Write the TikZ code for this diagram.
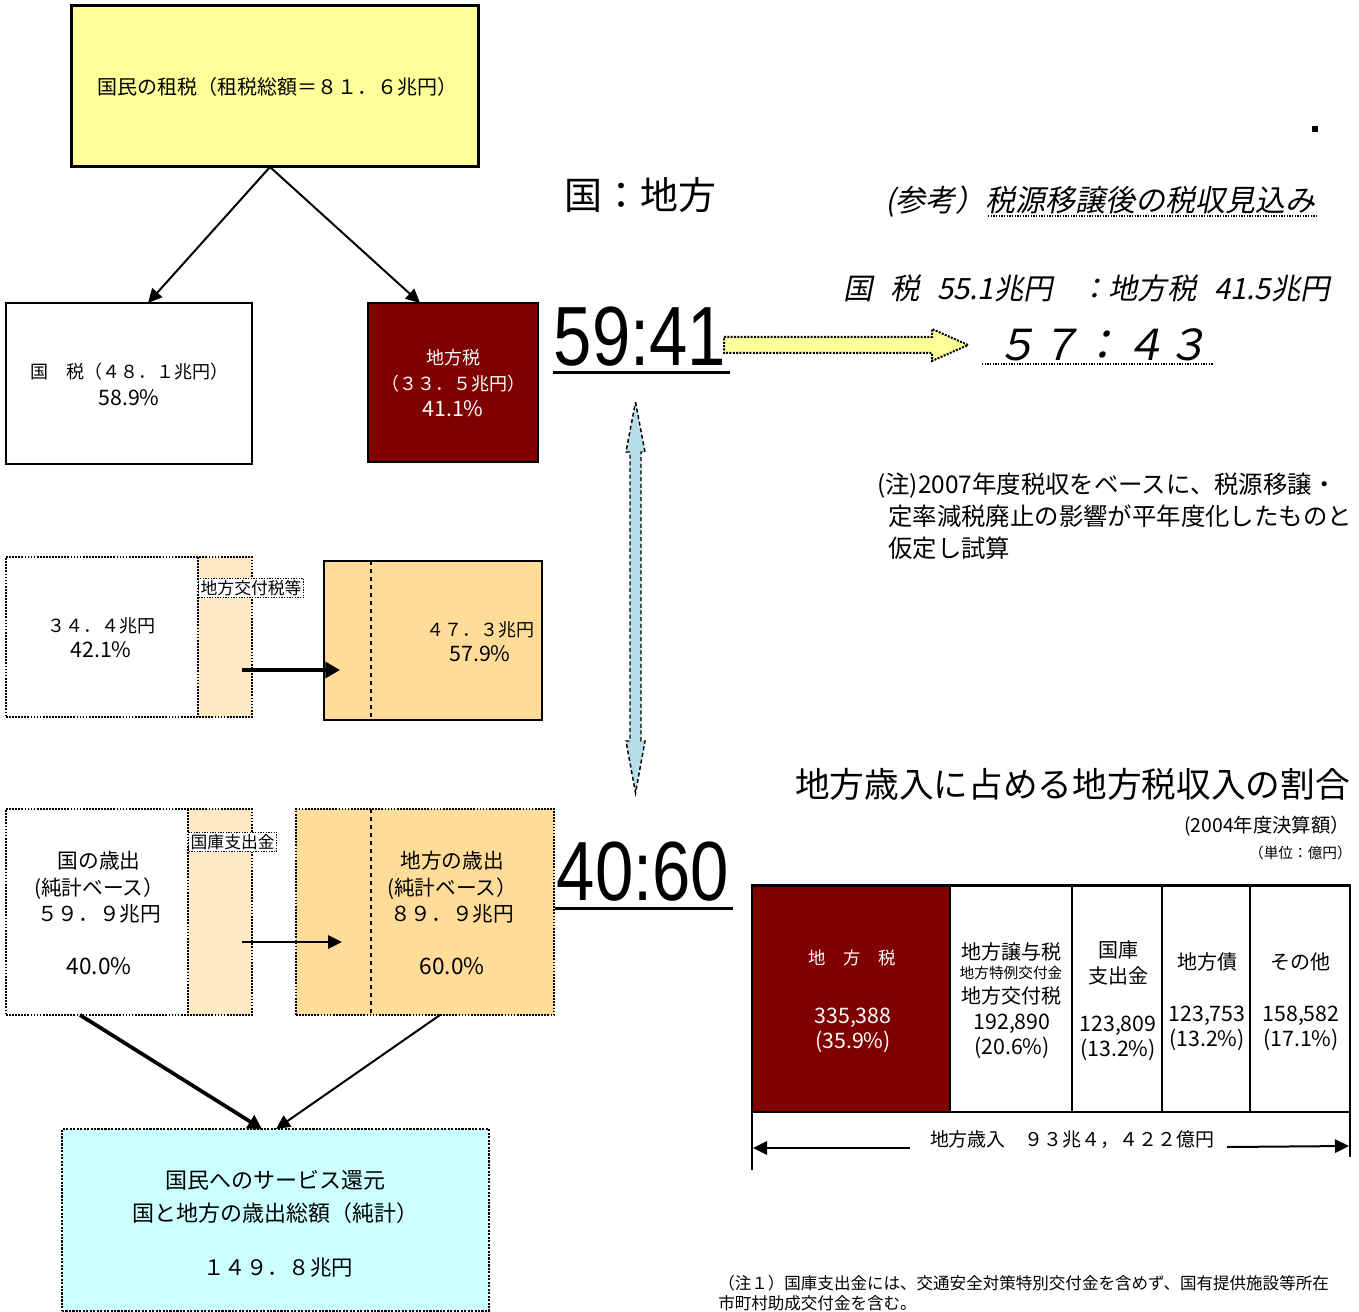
\documentclass[tikz,border=0pt]{standalone}
\usepackage{fontspec}
\usepackage{graphicx}
\setmainfont{Noto Sans CJK JP}
\newfontfamily\itfont[FakeSlant=0.2]{Noto Sans CJK JP}
\newfontfamily\numfont{Liberation Sans}
\usetikzlibrary{arrows.meta,fit,calc}
\newcommand\fsz[2]{\fontsize{#1}{#2}\selectfont}
\newcommand\pcl[1]{{\fontsize{16pt}{16pt}\selectfont #1}}
\newcommand\pcb[1]{{\fontsize{17pt}{17pt}\selectfont #1}}
\definecolor{cYel}{HTML}{FFFF99}
\definecolor{cRed}{HTML}{800000}
\definecolor{cPeach}{HTML}{FFE9C4}
\definecolor{cOrange}{HTML}{FFDD99}
\definecolor{cCyan}{HTML}{CCFFFF}
\definecolor{cBlue}{HTML}{B7DEE8}
\begin{document}
\begin{tikzpicture}[x=0.75pt,y=-0.75pt,
  txt/.style={inner sep=0pt, align=center},
  arrowtip/.style={-{Triangle[length=10.5pt,width=10pt]}},
  conn/.style={arrowtip, line width=1.5pt},
  solidbox/.style={draw, line width=1.2pt, inner sep=0pt},
  dotbox/.style={draw, densely dotted, line width=1.3pt, inner sep=0pt},
  lab/.style={draw, densely dotted, fill=white, line width=1pt, inner sep=1.5pt, anchor=west, font=\fsz{12.6pt}{14pt}},
  midtxt/.style={txt, font=\fsz{13.5pt}{18.75pt}},
  lowtxt/.style={txt, font=\fsz{15.5pt}{19.9pt}},
  bignum/.style={txt, font={\numfont\fsz{63pt}{63pt}}},
  cellhead/.style={txt, font=\fsz{15pt}{19.5pt}},
  cellnum/.style={txt, font=\fsz{16pt}{18.75pt}},
  rule/.style={line width=1.5pt}
]
\useasboundingbox (0,0) rectangle (1359,1312);

% ---------- top: taxes ----------
\node[fit={(71,6)(478,167)}, draw, line width=2.25pt, fill=cYel, inner sep=0pt] (yel) {};
\node[txt, font=\fsz{15pt}{18pt}] (yelt) at (277,87) {国民の租税（租税総額＝８１．６兆円）};

\node[fit={(6,303)(252,464)}, solidbox] (kz) {};
\node[txt, font=\fsz{13.5pt}{20.25pt}] (kzt) at (129,384.5) {国　税（４８．１兆円）\\\pcl{58.9\%}};

\node[fit={(368,303)(538,462)}, solidbox, fill=cRed] (cz) {};
\node[txt, text=white, font=\fsz{13.5pt}{19.5pt}] (czt) at (453,383) {地方税\\（３３．５兆円）\\\pcl{41.1\%}};

\coordinate (ya) at (270,167);
\coordinate (kzin) at (148,303);
\coordinate (czin) at (420,303);
\draw[conn] (ya) -- (kzin);
\draw[conn] (ya) -- (czin);

% ---------- ratio 59:41 ----------
\node[txt, font=\fsz{28.5pt}{32pt}] (kt) at (640,195) {国：地方};
\node[bignum] (r1) at (640,337) {\scalebox{0.82}[1]{59:41}};
\draw[line width=2.25pt] (553,372) -- (730,372);

\draw[densely dotted, line width=1.5pt, fill=cYel] (724,337) -- (932,337) -- (932,329) -- (968,345) -- (932,361) -- (932,353) -- (724,353) -- cycle;

\node[anchor=west, txt, font={\itfont\fsz{22.5pt}{26pt}}] (ref) at (885,202) {(参考）税源移譲後の税収見込み};
\draw[densely dotted, line width=1pt] (988,216) -- (1318,216);

\node[anchor=west, txt, font={\itfont\fsz{22pt}{24pt}}] (ref2) at (843,288) {国\hspace{0.6em}税\hspace{0.6em}55.1兆円\hspace{0.9em}：地方税\hspace{0.6em}41.5兆円};
\node[txt, font={\itfont\fsz{32pt}{36pt}}] (r57) at (1102,345) {５７：４３};
\draw[densely dotted, line width=1pt] (982,364) -- (1213,364);

\fill (1312,126) rectangle (1318,132);

\node[anchor=west, align=left, inner sep=0pt, font=\fsz{18.3pt}{24pt}] (note) at (877,516) {(注)2007年度税収をベースに、税源移譲・\\\hspace{0.45em}定率減税廃止の影響が平年度化したものと\\\hspace{0.45em}仮定し試算};

% ---------- vertical double arrow ----------
\draw[densely dashed, line width=1.1pt, fill=cBlue] (635.5,402) -- (645,452) -- (641,452) -- (641,741) -- (645,741) -- (635.5,793) -- (626,741) -- (630,741) -- (630,452) -- (626,452) -- cycle;

% ---------- middle row ----------
\fill[cPeach] (198,557) rectangle (252,717);
\node[fit={(6,557)(252,717)}, dotbox] (ml) {};
\draw[densely dotted, line width=1.3pt] (198,557) -- (198,717);
\node[midtxt] (mlt) at (101,637.5) {３４．４兆円\\\pcl{42.1\%}};
\node[lab] (mlab) at (198,588) {地方交付税等};

\node[fit={(324,561)(542,720)}, solidbox, line width=1.5pt, fill=cOrange] (mr) {};
\draw[dashed, line width=1.1pt] (371,561) -- (371,720);
\node[midtxt] (mrt) at (480,641.5) {４７．３兆円\\\pcl{57.9\%}};

\coordinate (ma1) at (242,670);
\coordinate (ma2) at (340,670);
\draw[line width=3pt, -{Triangle[length=11pt,width=12pt]}] (ma1) -- (ma2);

% ---------- bottom row ----------
\fill[cPeach] (188,809) rectangle (252,1015);
\node[fit={(6,809)(252,1015)}, dotbox] (bl) {};
\draw[densely dotted, line width=1.3pt] (188,809) -- (188,1015);
\node[lowtxt] (blt) at (99,913) {国の歳出\\(純計ベース）\\５９．９兆円\\\mbox{}\\\pcb{40.0\%}};
\node[lab] (blab) at (188,842) {国庫支出金};

\node[fit={(296,809)(554,1015)}, dotbox, fill=cOrange] (br) {};
\draw[dashed, line width=1.1pt] (371,809) -- (371,1015);
\node[lowtxt] (brt) at (452,913) {地方の歳出\\(純計ベース）\\８９．９兆円\\\mbox{}\\\pcb{60.0\%}};

\coordinate (ba1) at (242,942);
\coordinate (ba2) at (342,942);
\draw[conn] (ba1) -- (ba2);

\node[bignum] (r2) at (643,872) {\scalebox{0.82}[1]{40:60}};
\draw[line width=2.25pt] (555,908) -- (733,908);

% ---------- service box ----------
\node[fit={(62,1129)(489,1311)}, draw, densely dotted, line width=1.6pt, fill=cCyan, inner sep=0pt] (sv) {};
\node[txt, font=\fsz{16.5pt}{24.75pt}] (svt) at (275,1196.5) {国民へのサービス還元\\国と地方の歳出総額（純計）};
\node[txt, font=\fsz{16pt}{20pt}] (svn) at (278,1268) {１４９．８兆円};

\coordinate (d1) at (80,1015);
\coordinate (d2) at (262,1129);
\coordinate (d3) at (440,1015);
\coordinate (d4) at (276,1129);
\draw[line width=2.8pt, -{Triangle[length=10.5pt,width=11pt]}] (d1) -- (d2);
\draw[conn] (d3) -- (d4);

% ---------- revenue chart ----------
\node[anchor=east, inner sep=0pt, font=\fsz{26pt}{30pt}] (ttl) at (1350,784) {地方歳入に占める地方税収入の割合};
\node[anchor=east, inner sep=0pt, font=\fsz{14.5pt}{16pt}] (yr) at (1350,826) {(2004年度決算額）};
\node[anchor=east, inner sep=0pt, font=\fsz{11pt}{13pt}] (unit) at (1352,853) {（単位：億円）};

\fill[cRed] (752,885) rectangle (950,1112);
\draw[rule] (752,885) -- (752,1170);
\draw[rule] (1350,885) -- (1350,1157);
\draw[line width=2.25pt] (751,885) -- (1351,885);
\draw[rule] (752,1112) -- (1350,1112);
\foreach \x in {950,1072,1162,1250} \draw[rule] (\x,885) -- (\x,1112);

\node[txt, text=white, font=\fsz{13pt}{16pt}] (c1h) at (852,958) {地　方　税};
\node[cellnum, text=white] (c1n) at (853,1030.5) {335,388\\(35.9\%)};
\node[txt, font=\fsz{15pt}{18pt}] (c2a) at (1011,952) {地方譲与税};
\node[txt, font=\fsz{11pt}{13pt}] (c2b) at (1011,973) {地方特例交付金};
\node[txt, font=\fsz{15pt}{18pt}] (c2c) at (1011,996) {地方交付税};
\node[cellnum] (c2n) at (1012,1036) {192,890\\(20.6\%)};
\node[cellhead] (c3h) at (1118,963) {国庫\\支出金};
\node[cellnum] (c3n) at (1118,1038) {123,809\\(13.2\%)};
\node[cellhead] (c4h) at (1207,962) {地方債};
\node[cellnum] (c4n) at (1207,1028) {123,753\\(13.2\%)};
\node[cellhead] (c5h) at (1300,962) {その他};
\node[cellnum] (c5n) at (1301,1028) {158,582\\(17.1\%)};

\node[txt, font=\fsz{14.2pt}{17pt}] (tot) at (1072,1140) {地方歳入　９３兆４，４２２億円};
\coordinate (t1) at (910,1148);
\coordinate (t2) at (753,1148);
\coordinate (t3) at (1227,1147);
\coordinate (t4) at (1349,1146);
\draw[conn] (t1) -- (t2);
\draw[conn] (t3) -- (t4);

\node[anchor=north west, align=left, inner sep=0pt, font=\fsz{12.4pt}{15pt}] (fn) at (718,1275) {（注１）国庫支出金には、交通安全対策特別交付金を含めず、国有提供施設等所在\\市町村助成交付金を含む。};
\end{tikzpicture}
\end{document}
